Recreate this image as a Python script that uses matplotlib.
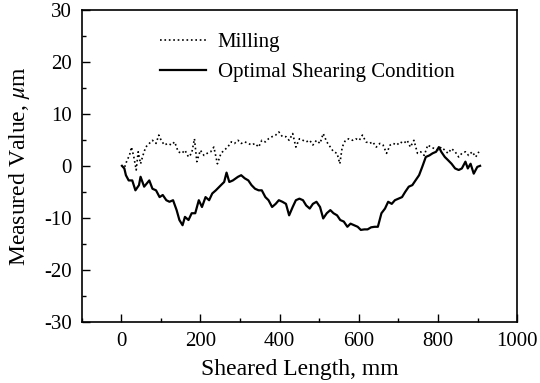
import matplotlib
matplotlib.use("Agg")
import matplotlib.pyplot as plt
from matplotlib.ticker import MultipleLocator

plt.rcParams['font.family'] = ['Liberation Serif', 'DejaVu Serif']
plt.rcParams['mathtext.fontset'] = 'stix'
plt.rcParams['axes.unicode_minus'] = False

# Optimal Shearing Condition (solid)
shear_x = [2, 8, 12, 19, 28, 36, 45, 49, 58, 71, 79, 88, 97, 105, 114, 122, 131, 140, 147, 155,
           161, 170, 178, 187, 196, 204, 213, 222, 230, 239, 252, 260, 266, 273, 282, 295, 303, 312,
           321, 329, 338, 347, 355, 364, 372, 381, 390, 398, 407, 416, 424, 433, 441, 450, 459, 467,
           476, 484, 493, 502, 510, 519, 528, 536, 545, 553, 562, 571, 579, 588, 597, 605, 614, 622,
           631, 640, 648, 657, 666, 674, 683, 691, 700, 709, 717, 726, 735, 743, 752, 760, 769, 778,
           786, 795, 802, 808, 817, 825, 834, 843, 852, 860, 869, 875, 882, 890, 899, 906]
shear_y = [0.0, -0.5, -1.8, -2.8, -2.8, -4.7, -3.7, -2.1, -4.0, -2.8, -4.4, -4.7, -6.0, -5.6, -6.6,
           -6.9, -6.6, -8.5, -10.4, -11.4, -9.8, -10.4, -9.1, -9.1, -6.6, -7.9, -6.0, -6.6, -5.3,
           -4.7, -3.7, -3.1, -1.3, -3.1, -2.8, -2.1, -1.8, -2.4, -2.8, -3.7, -4.4, -4.7, -4.7, -6.0,
           -6.6, -7.9, -7.3, -6.6, -6.9, -7.3, -9.5, -7.9, -6.6, -6.3, -6.6, -7.6, -8.2, -7.3, -6.9,
           -7.9, -10.1, -9.1, -8.5, -9.1, -9.5, -10.4, -10.7, -11.7, -11.1, -11.4, -11.7, -12.3,
           -12.2, -12.2, -11.8, -11.7, -11.7, -9.1, -8.2, -6.9, -7.3, -6.6, -6.3, -6.0, -5.0, -4.0,
           -3.7, -2.8, -1.8, -0.2, 1.7, 2.0, 2.4, 2.7, 3.6, 2.7, 1.7, 1.1, 0.4, -0.5, -0.8, -0.5, 0.8,
           -0.5, 0.4, -1.5, -0.2, 0.0]

# Milling (dotted)
mill_x = [9, 15, 21, 26, 32, 38, 43, 49, 55, 62, 71, 79, 88, 95, 101, 109, 118, 127, 135, 144, 153,
          161, 170, 178, 185, 191, 200, 209, 217, 226, 234, 243, 252, 260, 269, 278, 286, 295, 303,
          312, 321, 329, 338, 347, 355, 364, 372, 381, 390, 398, 407, 416, 424, 433, 441, 450, 459,
          467, 476, 484, 493, 502, 510, 519, 528, 536, 545, 552, 558, 566, 575, 584, 592, 601, 609,
          618, 627, 635, 644, 653, 661, 670, 679, 687, 696, 704, 713, 722, 730, 739, 748, 756, 765,
          774, 782, 791, 800, 808, 817, 825, 834, 843, 852, 860, 869, 877, 886, 895, 903]
mill_y = [-0.2, 1.1, 2.0, 3.6, 1.7, -0.8, 2.7, 0.4, 2.0, 3.6, 4.3, 4.9, 4.3, 5.9, 4.9, 4.0, 4.3, 4.0,
          4.6, 2.7, 2.4, 3.0, 1.7, 2.4, 5.2, 0.8, 3.0, 2.0, 2.4, 2.7, 3.6, 0.4, 2.4, 3.0, 3.6, 4.6,
          4.3, 4.9, 4.3, 4.6, 4.3, 4.0, 4.3, 3.6, 4.9, 4.6, 5.2, 5.6, 5.9, 6.5, 5.6, 5.6, 4.9, 6.2,
          3.6, 5.2, 4.9, 4.6, 4.9, 4.0, 4.9, 4.3, 6.2, 4.6, 3.6, 2.7, 2.4, 0.4, 3.6, 4.9, 5.2, 4.9,
          5.2, 4.9, 5.9, 4.6, 4.3, 4.6, 3.6, 4.3, 4.0, 2.4, 4.0, 4.3, 4.0, 4.6, 4.3, 4.9, 3.6, 4.9,
          2.4, 2.7, 2.0, 4.0, 3.6, 3.3, 3.0, 3.6, 3.0, 2.4, 3.3, 2.7, 1.7, 2.4, 2.7, 2.0, 2.7, 1.7,
          2.7]

labels = ["Milling", "Optimal Shearing Condition"]

fig = plt.figure(figsize=(5.4, 3.83), dpi=100)
ax = fig.add_axes([0.151, 0.159, 0.807, 0.816])

ax.plot(mill_x, mill_y, color='black', linestyle=':', linewidth=1.2, label=labels[0])
ax.plot(shear_x, shear_y, color='black', linestyle='-', linewidth=1.6, label=labels[1])

ax.set_xlim(-100, 1000)
ax.set_ylim(-30, 30)
ax.xaxis.set_major_locator(MultipleLocator(200))
ax.xaxis.set_minor_locator(MultipleLocator(100))
ax.yaxis.set_major_locator(MultipleLocator(10))
ax.yaxis.set_minor_locator(MultipleLocator(5))
ax.tick_params(which='both', direction='in', top=False, right=False, labelsize=15, width=1.0)
ax.tick_params(which='major', length=6, pad=7)
ax.tick_params(which='minor', length=3)
for s in ax.spines.values():
    s.set_linewidth(1.2)

ax.set_xlabel("Sheared Length, mm", fontsize=17, labelpad=6)
ax.set_ylabel(r"Measured Value, $\mu$m", fontsize=17, labelpad=9)

ax.legend(loc='upper left', bbox_to_anchor=(0.16, 0.954), frameon=False, fontsize=15,
          handlelength=2.25, handletextpad=0.53, labelspacing=0.5, borderaxespad=0)

fig.savefig("out.png", dpi=100)
